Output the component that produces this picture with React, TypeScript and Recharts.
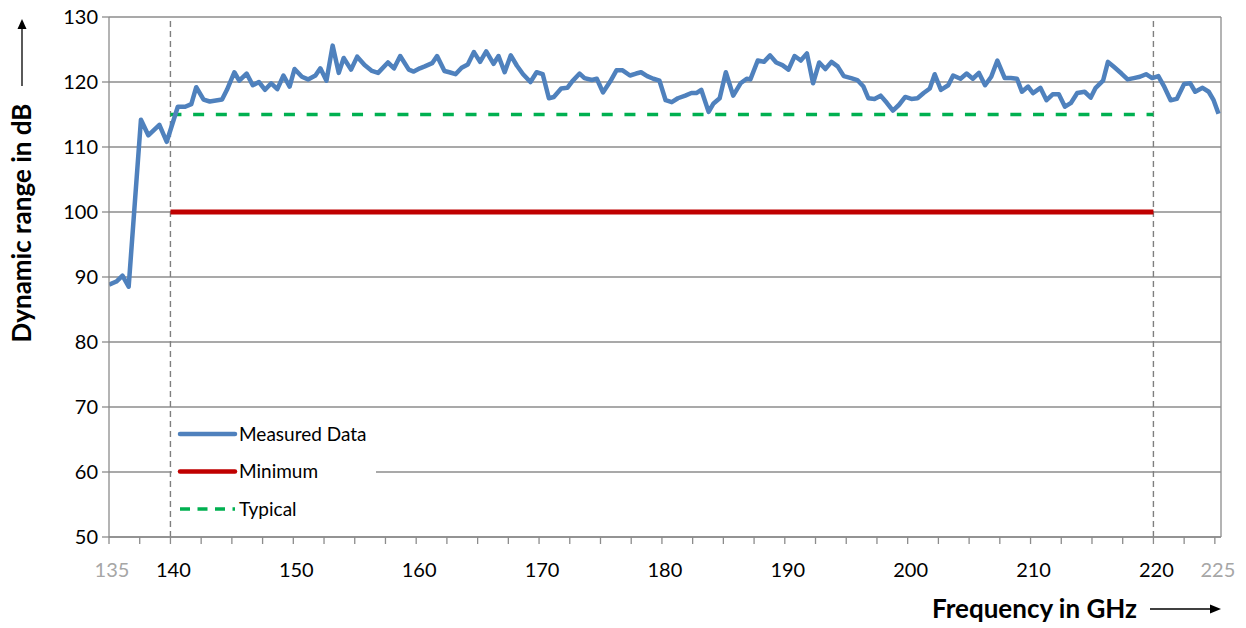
import React from 'react';
import { LineChart, Line, XAxis, YAxis, CartesianGrid, ReferenceLine } from 'recharts';

// measured dynamic range, frequency in GHz
const FREQ = [
  135.0, 135.6, 136.1, 136.6, 137.6, 138.2, 139.1, 139.7, 140.6, 141.2, 141.7, 142.1, 142.7, 143.2,
  144.2, 144.6, 145.2, 145.6, 146.2, 146.7, 147.2, 147.7, 148.2, 148.7, 149.2, 149.7, 150.1, 150.7,
  151.2, 151.8, 152.2, 152.7, 153.2, 153.7, 154.1, 154.7, 155.2, 155.8, 156.4, 156.9, 157.7, 158.2,
  158.7, 159.4, 159.8, 160.3, 160.7, 161.3, 161.7, 162.3, 162.7, 163.2, 163.7, 164.2, 164.7, 165.2,
  165.7, 166.3, 166.7, 167.2, 167.7, 168.2, 168.7, 169.3, 169.8, 170.3, 170.8, 171.2, 171.8, 172.3,
  172.7, 173.3, 173.7, 174.3, 174.7, 175.2, 175.8, 176.3, 176.8, 177.4, 177.9, 178.3, 178.8, 179.3,
  179.8, 180.3, 180.8, 181.3, 181.9, 182.4, 182.8, 183.2, 183.8, 184.2, 184.7, 185.2, 185.8, 186.4,
  186.9, 187.2, 187.8, 188.3, 188.8, 189.3, 189.8, 190.3, 190.8, 191.3, 191.8, 192.3, 192.8, 193.3,
  193.8, 194.3, 194.8, 195.4, 195.9, 196.4, 196.8, 197.3, 197.8, 198.3, 198.8, 199.3, 199.8, 200.3,
  200.8, 201.3, 201.8, 202.2, 202.7, 203.3, 203.7, 204.3, 204.8, 205.3, 205.8, 206.3, 206.8, 207.3,
  207.9, 208.4, 208.9, 209.3, 209.8, 210.2, 210.8, 211.3, 211.8, 212.3, 212.8, 213.3, 213.8, 214.4,
  214.9, 215.3, 215.9, 216.3, 216.8, 217.4, 217.9, 218.4, 218.9, 219.4, 219.9, 220.4, 220.9, 221.4,
  221.9, 222.5, 223.0, 223.4, 224.0, 224.5, 224.9, 225.3,
];
const MEASURED = [
  88.8, 89.3, 90.2, 88.5, 114.2, 111.8, 113.4, 110.8, 116.2, 116.2, 116.6, 119.2, 117.3, 117.0,
  117.3, 118.8, 121.5, 120.2, 121.3, 119.5, 120.0, 118.8, 119.8, 118.9, 121.0, 119.3, 122.0, 120.8,
  120.4, 121.0, 122.1, 120.2, 125.6, 121.4, 123.7, 121.9, 123.9, 122.6, 121.7, 121.4, 123.0, 122.1,
  124.0, 121.9, 121.6, 122.1, 122.4, 122.9, 124.0, 121.7, 121.5, 121.2, 122.2, 122.7, 124.6, 123.1,
  124.7, 122.8, 124.0, 121.5, 124.1, 122.5, 121.2, 120.0, 121.5, 121.2, 117.5, 117.7, 119.0, 119.1,
  120.1, 121.3, 120.6, 120.3, 120.5, 118.4, 120.1, 121.8, 121.8, 121.0, 121.3, 121.5, 120.9, 120.5,
  120.2, 117.2, 116.9, 117.5, 117.9, 118.3, 118.3, 118.8, 115.4, 116.7, 117.5, 121.5, 117.9, 119.8,
  120.5, 120.4, 123.3, 123.1, 124.1, 123.0, 122.6, 121.9, 124.0, 123.3, 124.4, 119.8, 123.0, 122.0,
  123.1, 122.4, 120.9, 120.6, 120.3, 119.3, 117.5, 117.4, 117.9, 116.8, 115.6, 116.5, 117.7, 117.4,
  117.5, 118.3, 119.0, 121.2, 118.8, 119.5, 121.0, 120.5, 121.3, 120.5, 121.4, 119.5, 120.8, 123.3,
  120.6, 120.6, 120.5, 118.5, 119.3, 118.3, 119.1, 117.2, 118.1, 118.1, 116.2, 116.8, 118.3, 118.5,
  117.6, 119.1, 120.2, 123.1, 122.3, 121.3, 120.4, 120.6, 120.8, 121.2, 120.6, 120.9, 119.2, 117.2,
  117.4, 119.7, 119.8, 118.5, 119.1, 118.5, 117.2, 115.1,
];

const LIMIT_FREQ = [140, 220];
const MINIMUM = [100, 100];
const TYPICAL = [115, 115];

const X_TICKS = [135, 137.5, 140, 142.5, 145, 147.5, 150, 152.5, 155, 157.5, 160, 162.5, 165, 167.5, 170,
  172.5, 175, 177.5, 180, 182.5, 185, 187.5, 190, 192.5, 195, 197.5, 200, 202.5, 205, 207.5, 210, 212.5,
  215, 217.5, 220, 222.5, 225];
const X_LABELS = [135, 140, 150, 160, 170, 180, 190, 200, 210, 220, 225];
const X_EDGE_LABELS = [135, 225];
const Y_TICKS = [50, 60, 70, 80, 90, 100, 110, 120, 130];

const FONT = 'Lato, "Open Sans", sans-serif';
const GRID = '#8c8c8c';
const BLUE = '#4f81bd';
const RED = '#c00000';
const GREEN = '#00b050';

const measuredData = FREQ.map((f, i) => ({ f, v: MEASURED[i] }));
const minimumData = LIMIT_FREQ.map((f, i) => ({ f, v: MINIMUM[i] }));
const typicalData = LIMIT_FREQ.map((f, i) => ({ f, v: TYPICAL[i] }));

const XTick = ({ x, y, payload }: any) => {
  const v = payload.value;
  if (!X_LABELS.includes(v)) return null;
  return (
    <text x={x + 3} y={y + 31} textAnchor="middle" fontFamily={FONT} fontSize={20}
      fill={X_EDGE_LABELS.includes(v) ? '#a6a6a6' : '#000'}>
      {v}
    </text>
  );
};

const YTitle = () => (
  <g>
    <text x={0} y={0} transform="translate(31 223) rotate(-90)" textAnchor="middle"
      fontFamily={FONT} fontSize={26} fontWeight={700} fill="#000">
      Dynamic range in dB
    </text>
    <line x1={22} y1={86} x2={22} y2={28} stroke="#000" strokeWidth={1.3} />
    <polygon points="22,19 17.5,29 26.5,29" fill="#000" />
  </g>
);

const XTitle = () => (
  <g>
    <text x={1137} y={618} textAnchor="end" fontFamily={FONT} fontSize={26} fontWeight={700} fill="#000">
      Frequency in GHz
    </text>
    <line x1={1150} y1={609} x2={1211} y2={609} stroke="#000" strokeWidth={1.3} />
    <polygon points="1221,609 1210,604.5 1210,613.5" fill="#000" />
  </g>
);

const LEGEND_ROWS = [
  { name: 'Measured Data', color: BLUE, dash: undefined, w: 4.5 },
  { name: 'Minimum', color: RED, dash: undefined, w: 4.5 },
  { name: 'Typical', color: GREEN, dash: '10 7.5', w: 3.5 },
];

const LegendBox = () => (
  <svg width={204} height={112}
    style={{ position: 'absolute', left: 172, top: 416, display: 'block', background: '#fff' }}>
    {LEGEND_ROWS.map((r, i) => (
      <g key={r.name}>
        <line x1={8} x2={63} y1={18 + i * 37.5} y2={18 + i * 37.5} stroke={r.color}
          strokeWidth={r.w} strokeDasharray={r.dash} strokeLinecap={r.dash ? 'butt' : 'round'} />
        <text x={67} y={18 + i * 37.5} dy="0.36em" fontFamily={FONT} fontSize={19} fill="#000">
          {r.name}
        </text>
      </g>
    ))}
  </svg>
);

export default function App() {
  return (
    <div style={{ position: 'absolute', left: 0, top: 0, width: 1246, height: 628, background: '#fff' }}>
      <LineChart width={1246} height={628} margin={{ top: 17, right: 25, left: 0, bottom: 0 }}>
        <CartesianGrid vertical={false} stroke={GRID} strokeWidth={1.3} />
        <XAxis
          dataKey="f"
          type="number"
          domain={[135, 225.5]}
          ticks={X_TICKS}
          interval={0}
          height={91}
          tick={<XTick />}
          tickSize={7}
          tickLine={{ stroke: GRID, strokeWidth: 1.3 }}
          axisLine={{ stroke: GRID, strokeWidth: 1.3 }}
          allowDataOverflow
          label={XTitle}
        />
        <YAxis
          type="number"
          domain={[50, 130]}
          ticks={Y_TICKS}
          interval={0}
          width={109}
          tickSize={7}
          tickMargin={4}
          tick={{ fill: '#000', fontSize: 20, fontFamily: FONT }}
          tickLine={{ stroke: GRID, strokeWidth: 1.3 }}
          axisLine={{ stroke: GRID, strokeWidth: 1.3 }}
          label={YTitle}
        />
        <ReferenceLine x={140} stroke="#7f7f7f" strokeWidth={1.4} strokeDasharray="6 4" />
        <ReferenceLine x={220} stroke="#7f7f7f" strokeWidth={1.4} strokeDasharray="6 4" />
        <ReferenceLine x={225.5} stroke={GRID} strokeWidth={1.3} />
        <Line data={minimumData} dataKey="v" name="Minimum" stroke={RED} strokeWidth={5}
          dot={false} isAnimationActive={false} />
        <Line data={typicalData} dataKey="v" name="Typical" stroke={GREEN} strokeWidth={3.5}
          strokeDasharray="11 11.7" dot={false} isAnimationActive={false} />
        <Line data={measuredData} dataKey="v" name="Measured Data" stroke={BLUE} strokeWidth={4.5}
          strokeLinejoin="round" dot={false} isAnimationActive={false} />
      </LineChart>
      <LegendBox />
    </div>
  );
}
